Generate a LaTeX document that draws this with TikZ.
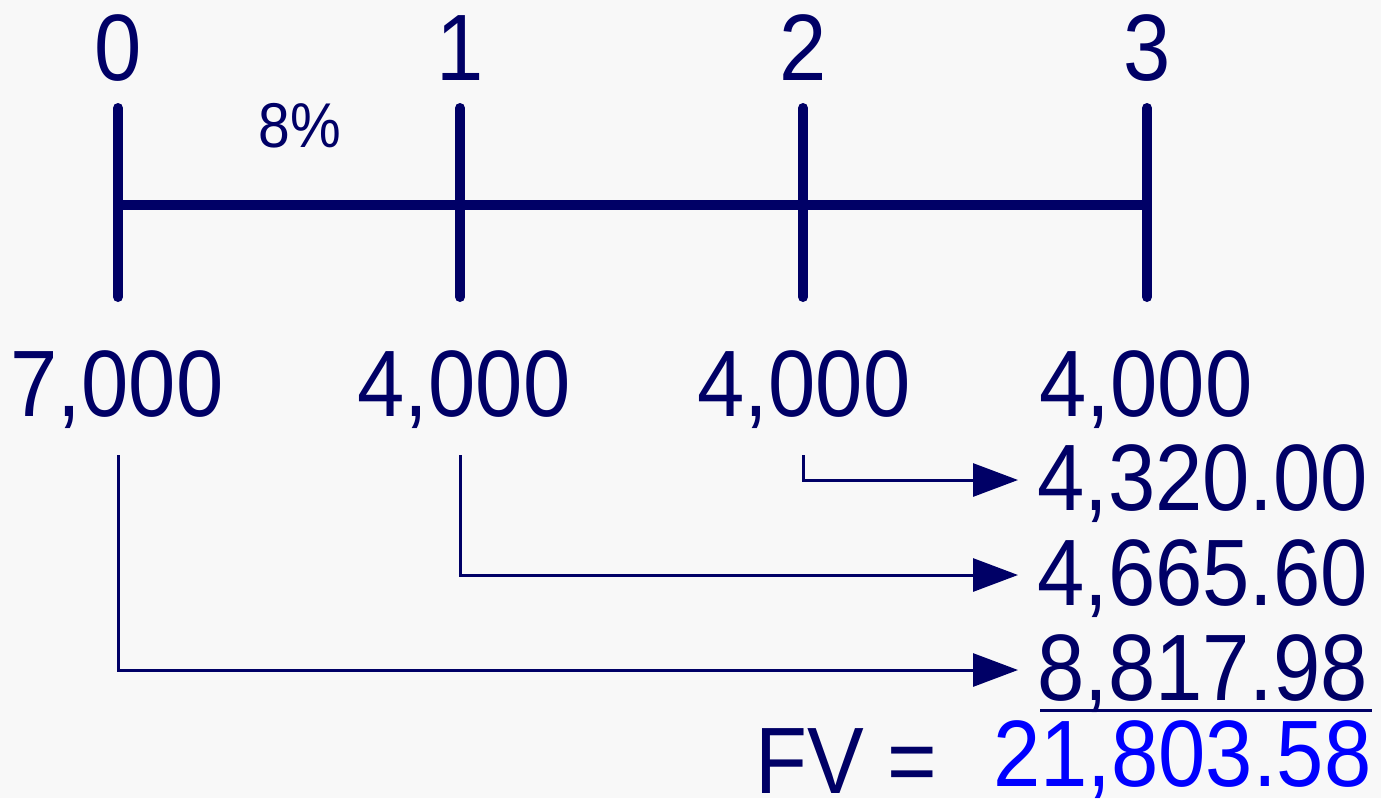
\documentclass[tikz,border=0pt]{standalone}
\usepackage{fontspec}
\setmainfont{Liberation Sans}
\usetikzlibrary{arrows.meta}
\definecolor{navy}{HTML}{000066}
\definecolor{fvblue}{HTML}{0000FF}
\definecolor{bgc}{HTML}{F8F8F8}
\newcommand{\bigtxt}[1]{\scalebox{1}[1.11]{\fontsize{85}{100}\selectfont #1}}
\newcommand{\smalltxt}[1]{\scalebox{1}[1.11]{\fontsize{57}{68}\selectfont #1}}
\begin{document}
\begin{tikzpicture}[x=1pt,y=-1pt,
  axisline/.style={line width=10pt, navy},
  tickline/.style={line width=10pt, navy, line cap=round},
  conn/.style={line width=3pt, navy, -{Triangle[length=45pt,width=33pt]}},
  lbl/.style={inner sep=0pt, text=navy, anchor=base},
  val/.style={inner sep=0pt, text=navy, anchor=base west}]
\useasboundingbox[fill=bgc] (0,0) rectangle (1381,798);
% ticks
\foreach \n/\x in {0/118,1/460,2/803,3/1147}{
  \coordinate (top\n) at (\x,108);
  \coordinate (bot\n) at (\x,297);
  \coordinate (mid\n) at (\x,205);
  \draw[tickline] (top\n) -- (bot\n);
}
\draw[axisline] (mid0) -- (mid3);
% period labels
\node[lbl] (l0) at (118,80) {\bigtxt{0}};
\node[lbl] (l1) at (460,80) {\bigtxt{1}};
\node[lbl] (l2) at (803,80) {\bigtxt{2}};
\node[lbl] (l3) at (1147,80) {\bigtxt{3}};
\node[lbl] (rate) at (300,147) {\smalltxt{8\%}};
% cash flows
\node[lbl] (v0) at (117,416) {\bigtxt{7,000}};
\node[lbl] (v1) at (464,416) {\bigtxt{4,000}};
\node[lbl] (v2) at (804,416) {\bigtxt{4,000}};
\node[lbl] (v3) at (1146,416) {\bigtxt{4,000}};
% future values
\node[val] (r1) at (1037,510) {\bigtxt{4,320.00}};
\node[val] (r2) at (1037,605) {\bigtxt{4,665.60}};
\node[val] (r3) at (1037,700) {\bigtxt{8,817.98}};
\coordinate (u1) at (1040,710);
\coordinate (u2) at (1372,710);
\draw[line width=3pt, navy] (u1) -- (u2);
\node[val] (fv) at (755,793) {\bigtxt{FV =}};
\node[val, text=fvblue] (total) at (993,786) {\bigtxt{21,803.58}};
% connectors
\coordinate (s2) at (803,455);
\coordinate (s1) at (460,455);
\coordinate (s0) at (118,455);
\coordinate (e1) at (1018,480);
\coordinate (e2) at (1018,575);
\coordinate (e3) at (1018,670);
\draw[conn] (s2) |- (e1);
\draw[conn] (s1) |- (e2);
\draw[conn] (s0) |- (e3);
\end{tikzpicture}
\end{document}
